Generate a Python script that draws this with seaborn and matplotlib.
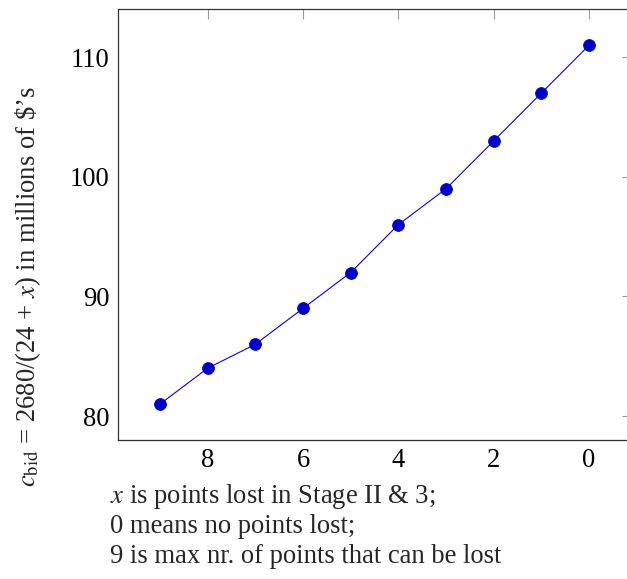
import matplotlib
matplotlib.use("Agg")
import matplotlib.pyplot as plt
import seaborn as sns
import pandas as pd

points_lost = [9, 8, 7, 6, 5, 4, 3, 2, 1, 0]
c_bid = [81, 84, 86, 89, 92, 96, 99, 103, 107, 111]
x_ticks = [8, 6, 4, 2, 0]
y_ticks = [80, 90, 100, 110]
xlabel_lines = ["$x$ is points lost in Stage II & 3;",
                "0 means no points lost;",
                "9 is max nr. of points that can be lost"]
ylabel = r"$c_{\mathrm{bid}}$ = 2680/(24 + $x$) in millions of \$’s"

sns.set_style("white")
plt.rcParams['font.family'] = ['Liberation Serif', 'DejaVu Serif']
plt.rcParams['mathtext.fontset'] = 'stix'

FS = 19.2
W, H = 627, 579
fig = plt.figure(figsize=(W / 100, H / 100), dpi=100)
left, right, top, bottom = 117.7, 632, 9.3, 440
ax = fig.add_axes([left / W, 1 - bottom / H, (right - left) / W, (bottom - top) / H])

df = pd.DataFrame({"x": points_lost, "y": c_bid})
sns.lineplot(data=df, x="x", y="y", ax=ax, color="#0000ff", linewidth=0.8,
             marker="o", markersize=8.5, markerfacecolor="#0000cc",
             markeredgecolor="#0000cc", markeredgewidth=0.6)

ax.set_xlim(9.887, -0.9)
ax.set_ylim(78, 114)
ax.set_xticks(x_ticks)
ax.set_yticks(y_ticks)
ax.set_xlabel("")
ax.set_ylabel("")
ax.tick_params(axis="both", which="major", direction="in", length=7.5, width=0.8,
               color="#999999", labelsize=FS, top=True, right=True, pad=6,
               labelcolor="black")
for s in ax.spines.values():
    s.set_color("#333333")
    s.set_linewidth(0.9)

for i, line in enumerate(xlabel_lines):
    fig.text(110 / W, 1 - (503 + 30 * i) / H, line, fontsize=FS,
             ha="left", va="baseline")

fig.text(28 / W, 1 - 286.5 / H, ylabel, fontsize=FS, rotation=90,
         ha="center", va="center")

fig.savefig("out.png", dpi=100)
